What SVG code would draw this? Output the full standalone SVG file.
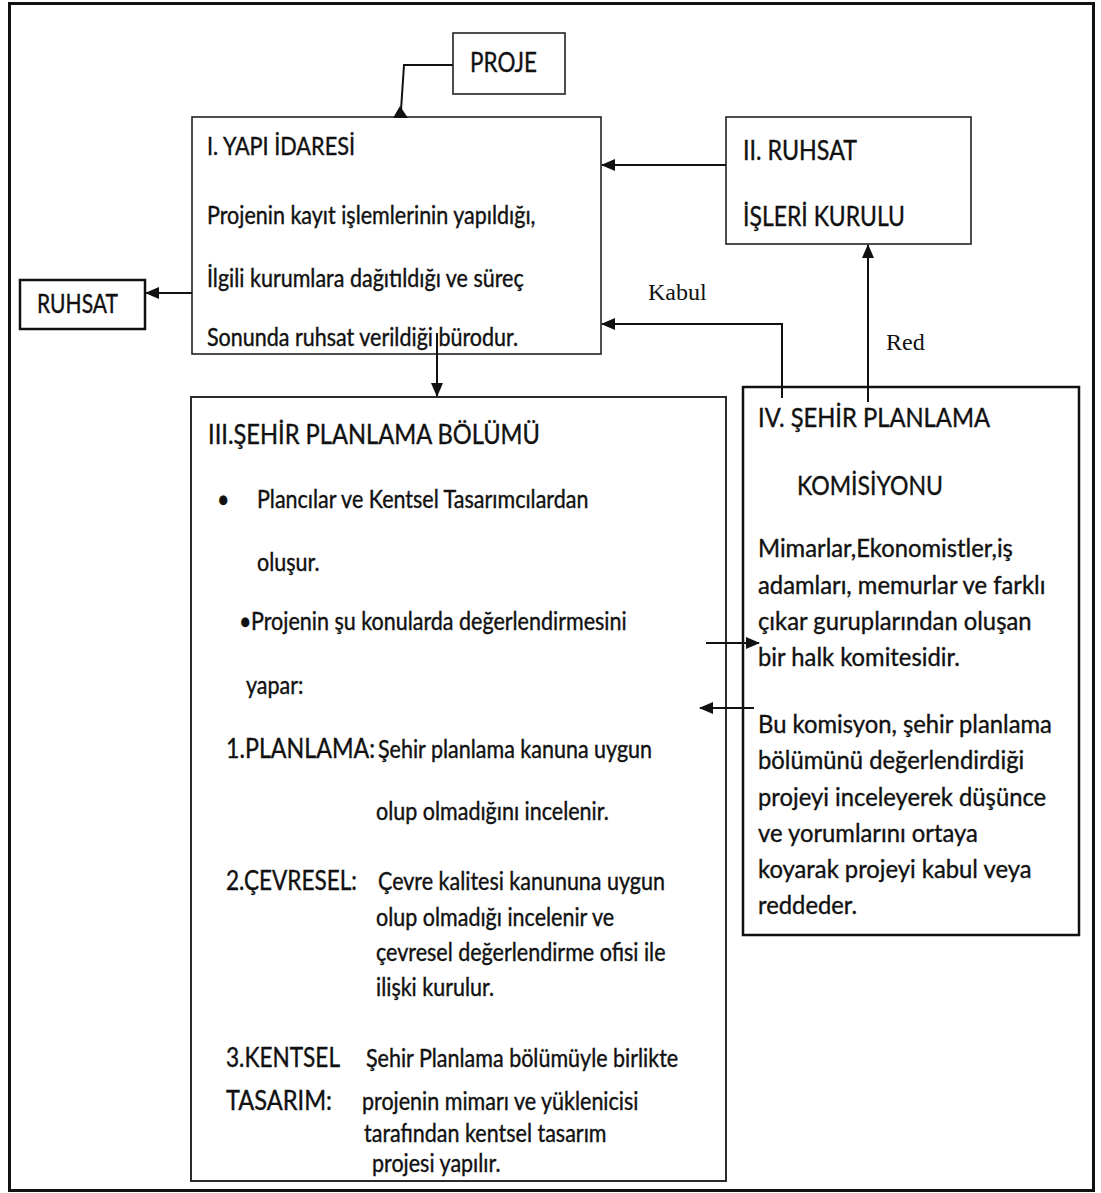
<svg xmlns="http://www.w3.org/2000/svg" width="1101" height="1193" viewBox="0 0 1101 1193">
<style>
.box{fill:#fff;stroke:#222;stroke-width:1.6}
.thick{fill:#fff;stroke:#111;stroke-width:2.5}
.t{font-family:Lato,"Liberation Sans",sans-serif;fill:#111;stroke:#111;stroke-width:0.35}
.s22{font-size:21.5px}
.s24{font-size:23.8px}
.cap{font-size:24.5px}
.serif{font-family:"Liberation Serif","Times New Roman",serif;font-size:24px;fill:#111}
.c{fill:none;stroke:#111;stroke-width:2}
</style>
<defs>
<marker id="ah" markerUnits="userSpaceOnUse" markerWidth="14" markerHeight="12" refX="13" refY="6" orient="auto">
<path d="M0,0 L14,6 L0,12 Z" fill="#111"/>
</marker>
</defs>
<rect x="0" y="0" width="1101" height="1193" fill="#fff"/>
<rect x="9.5" y="3.5" width="1084" height="1187" fill="none" stroke="#111" stroke-width="3"/>

<g id="proje">
<rect class="box" x="453" y="33" width="112" height="61"/>
<text class="t cap" transform="translate(470,72) scale(1,1.12)" textLength="67" lengthAdjust="spacingAndGlyphs">PROJE</text>
</g>

<g id="yapi-idaresi">
<rect class="box" x="192" y="117" width="409" height="237"/>
<text class="t s22" transform="translate(207,155) scale(1,1.12)" textLength="148" lengthAdjust="spacingAndGlyphs">I. YAPI İDARESİ</text>
<text class="t s22" transform="translate(207,224) scale(1,1.12)">Projenin kayıt işlemlerinin yapıldığı,</text>
<text class="t s22" transform="translate(207,287) scale(1,1.12)">İlgili kurumlara dağıtıldığı ve süreç</text>
<text class="t s22" transform="translate(207,346) scale(1,1.12)">Sonunda ruhsat verildiği bürodur.</text>
</g>

<g id="ruhsat">
<rect class="thick" x="20" y="280" width="125" height="49"/>
<text class="t cap" transform="translate(37,313) scale(1,1.1)" textLength="81" lengthAdjust="spacingAndGlyphs">RUHSAT</text>
</g>

<g id="ruhsat-isleri">
<rect class="box" x="726" y="117" width="245" height="127"/>
<text class="t cap" transform="translate(743,160) scale(1,1.12)" textLength="114" lengthAdjust="spacingAndGlyphs">II. RUHSAT</text>
<text class="t cap" transform="translate(743,226) scale(1,1.12)" textLength="162" lengthAdjust="spacingAndGlyphs">İŞLERİ KURULU</text>
</g>

<g id="sehir-planlama-bolumu">
<rect class="box" x="191" y="397" width="535" height="784" style="stroke-width:1.9"/>
<text class="t cap" transform="translate(208,444) scale(1,1.12)" textLength="332" lengthAdjust="spacingAndGlyphs">III.ŞEHİR PLANLAMA BÖLÜMÜ</text>
<text class="t s22" transform="translate(217,508) scale(1,1.12)">•</text>
<text class="t s22" transform="translate(257,508) scale(1,1.12)">Plancılar ve Kentsel Tasarımcılardan</text>
<text class="t s22" transform="translate(257,571) scale(1,1.12)">oluşur.</text>
<text class="t s22" transform="translate(239,630) scale(1,1.12)">•</text>
<text class="t s22" transform="translate(251,630) scale(1,1.12)">Projenin şu konularda değerlendirmesini</text>
<text class="t s22" transform="translate(246,694) scale(1,1.12)">yapar:</text>
<text class="t cap" transform="translate(226,758) scale(1,1.12)" textLength="149" lengthAdjust="spacingAndGlyphs">1.PLANLAMA:</text>
<text class="t s22" transform="translate(378,758) scale(1,1.12)">Şehir planlama kanuna uygun</text>
<text class="t s22" transform="translate(376,820) scale(1,1.12)">olup olmadığını incelenir.</text>
<text class="t cap" transform="translate(226,890) scale(1,1.12)" textLength="131" lengthAdjust="spacingAndGlyphs">2.ÇEVRESEL:</text>
<text class="t s22" transform="translate(378,890) scale(1,1.12)">Çevre kalitesi kanununa uygun</text>
<text class="t s22" transform="translate(376,926) scale(1,1.12)">olup olmadığı incelenir ve</text>
<text class="t s22" transform="translate(376,961) scale(1,1.12)">çevresel değerlendirme ofisi ile</text>
<text class="t s22" transform="translate(376,996) scale(1,1.12)">ilişki kurulur.</text>
<text class="t cap" transform="translate(226,1067) scale(1,1.12)" textLength="114" lengthAdjust="spacingAndGlyphs">3.KENTSEL</text>
<text class="t s22" transform="translate(366,1067) scale(1,1.12)">Şehir Planlama bölümüyle birlikte</text>
<text class="t cap" transform="translate(226,1110) scale(1,1.12)" textLength="106" lengthAdjust="spacingAndGlyphs">TASARIM:</text>
<text class="t s22" transform="translate(362,1110) scale(1,1.12)">projenin mimarı ve yüklenicisi</text>
<text class="t s22" transform="translate(364,1142) scale(1,1.12)">tarafından kentsel tasarım</text>
<text class="t s22" transform="translate(372,1172) scale(1,1.12)">projesi yapılır.</text>
</g>

<g id="sehir-planlama-komisyonu">
<rect class="thick" x="743" y="387" width="336" height="548"/>
<text class="t cap" transform="translate(758,427) scale(1,1.1)" textLength="232" lengthAdjust="spacingAndGlyphs">IV. ŞEHİR PLANLAMA</text>
<text class="t cap" transform="translate(797,495) scale(1,1.1)" textLength="146" lengthAdjust="spacingAndGlyphs">KOMİSİYONU</text>
<text class="t s24" transform="translate(758,557) scale(1,1.06)">Mimarlar,Ekonomistler,iş</text>
<text class="t s24" transform="translate(758,594) scale(1,1.06)">adamları, memurlar ve farklı</text>
<text class="t s24" transform="translate(758,630) scale(1,1.06)">çıkar guruplarından oluşan</text>
<text class="t s24" transform="translate(758,666) scale(1,1.06)">bir halk komitesidir.</text>
<text class="t s24" transform="translate(758,733) scale(1,1.06)">Bu komisyon, şehir planlama</text>
<text class="t s24" transform="translate(758,769) scale(1,1.06)">bölümünü değerlendirdiği</text>
<text class="t s24" transform="translate(758,806) scale(1,1.06)">projeyi inceleyerek düşünce</text>
<text class="t s24" transform="translate(758,842) scale(1,1.06)">ve yorumlarını ortaya</text>
<text class="t s24" transform="translate(758,878) scale(1,1.06)">koyarak projeyi kabul veya</text>
<text class="t s24" transform="translate(758,914) scale(1,1.06)">reddeder.</text>
</g>

<g id="connectors">
<path class="c" d="M453,65 H404 L401,110"/>
<polygon points="400,106 393,118 408,118" fill="#111"/>
<path class="c" d="M192,293 H146" marker-end="url(#ah)"/>
<path class="c" d="M726,165 H602" marker-end="url(#ah)"/>
<path class="c" d="M782,398 V324 H602" marker-end="url(#ah)"/>
<text class="serif" x="648" y="300">Kabul</text>
<path class="c" d="M868,402 V245" marker-end="url(#ah)"/>
<text class="serif" x="886" y="350">Red</text>
<path class="c" d="M437,333 V396" marker-end="url(#ah)"/>
<path class="c" d="M706,643 H759" marker-end="url(#ah)"/>
<path class="c" d="M754,708 H700" marker-end="url(#ah)"/>
</g>
</svg>
